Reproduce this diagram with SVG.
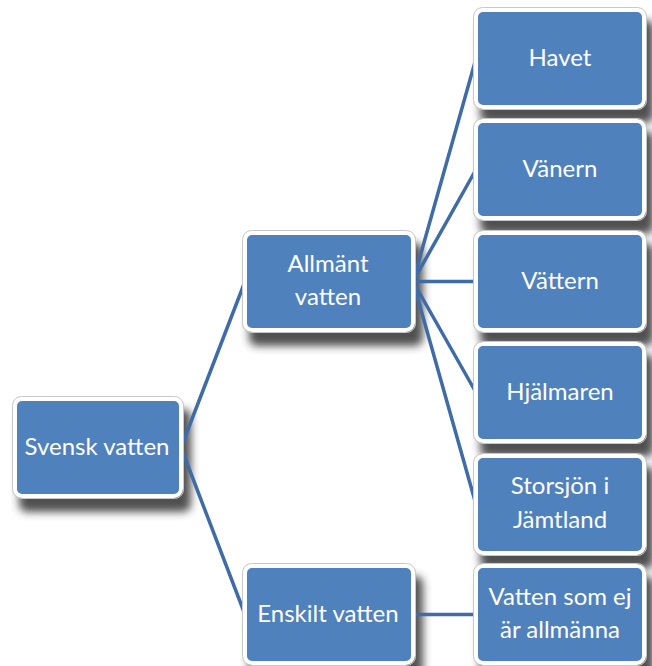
<svg xmlns="http://www.w3.org/2000/svg" width="652" height="666" viewBox="0 0 652 666">
<defs>
<filter id="blur" x="-20%" y="-20%" width="140%" height="140%">
<feGaussianBlur stdDeviation="4"/>
</filter>
<style>
#shadows rect{fill:#333;opacity:0.85;filter:url(#blur)}
.box rect.b{fill:#4F81BD;stroke:#fff;stroke-width:4}
.box rect.o{fill:none;stroke:#c8c8c8;stroke-width:1}
.box text{fill:#fff;font-family:Lato,"Liberation Sans",sans-serif;font-size:24px;text-anchor:middle}
#connectors line{stroke:#3F6CA6;stroke-width:3.5;stroke-linecap:round}
</style>
</defs>
<rect width="652" height="666" fill="#fff"/>
<g id="shadows">
<rect x="19" y="409" width="172" height="103" rx="8"/>
<rect x="249" y="243" width="174" height="103" rx="8"/>
<rect x="249" y="576" width="174" height="103" rx="8"/>
<rect x="480" y="20" width="174" height="103" rx="8"/>
<rect x="480" y="131" width="174" height="103" rx="8"/>
<rect x="480" y="243" width="174" height="103" rx="8"/>
<rect x="480" y="354" width="174" height="103" rx="8"/>
<rect x="480" y="466" width="174" height="103" rx="8"/>
<rect x="480" y="576" width="174" height="103" rx="8"/>
</g>
<g id="connectors">
<line x1="181" y1="447.5" x2="245" y2="281.5"/>
<line x1="181" y1="447.5" x2="245" y2="614.5"/>
<line x1="413" y1="281.5" x2="476" y2="58.5"/>
<line x1="413" y1="281.5" x2="476" y2="169.5"/>
<line x1="413" y1="281.5" x2="476" y2="281.5"/>
<line x1="413" y1="281.5" x2="476" y2="392.5"/>
<line x1="413" y1="281.5" x2="476" y2="504.5"/>
<line x1="413" y1="614.5" x2="476" y2="614.5"/>
</g>
<g id="svensk" class="box"><rect class="b" x="15" y="399" width="166" height="97" rx="7"/><rect class="o" x="12.5" y="396.5" width="171" height="102" rx="9"/><text x="97" y="455">Svensk vatten</text></g>
<g id="allmant" class="box"><rect class="b" x="245" y="233" width="168" height="97" rx="7"/><rect class="o" x="242.5" y="230.5" width="173" height="102" rx="9"/><text x="328" y="272">Allmänt</text><text x="328" y="305">vatten</text></g>
<g id="enskilt" class="box"><rect class="b" x="245" y="566" width="168" height="97" rx="7"/><rect class="o" x="242.5" y="563.5" width="173" height="102" rx="9"/><text x="328" y="622">Enskilt vatten</text></g>
<g id="havet" class="box"><rect class="b" x="476" y="10" width="168" height="97" rx="7"/><rect class="o" x="473.5" y="7.5" width="173" height="102" rx="9"/><text x="560" y="66">Havet</text></g>
<g id="vanern" class="box"><rect class="b" x="476" y="121" width="168" height="97" rx="7"/><rect class="o" x="473.5" y="118.5" width="173" height="102" rx="9"/><text x="560" y="177">Vänern</text></g>
<g id="vattern" class="box"><rect class="b" x="476" y="233" width="168" height="97" rx="7"/><rect class="o" x="473.5" y="230.5" width="173" height="102" rx="9"/><text x="560" y="289">Vättern</text></g>
<g id="hjalmaren" class="box"><rect class="b" x="476" y="344" width="168" height="97" rx="7"/><rect class="o" x="473.5" y="341.5" width="173" height="102" rx="9"/><text x="560" y="400">Hjälmaren</text></g>
<g id="storsjon" class="box"><rect class="b" x="476" y="456" width="168" height="97" rx="7"/><rect class="o" x="473.5" y="453.5" width="173" height="102" rx="9"/><text x="560" y="494">Storsjön i</text><text x="560" y="528">Jämtland</text></g>
<g id="vattensom" class="box"><rect class="b" x="476" y="566" width="168" height="97" rx="7"/><rect class="o" x="473.5" y="563.5" width="173" height="102" rx="9"/><text x="560" y="605">Vatten som ej</text><text x="560" y="638">är allmänna</text></g>
</svg>
